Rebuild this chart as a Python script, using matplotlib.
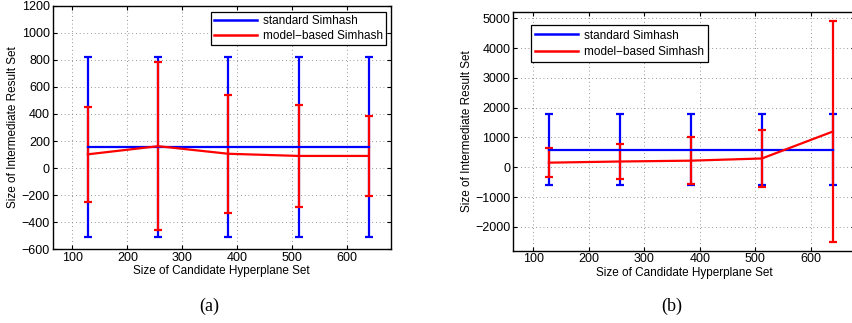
import numpy as np
import matplotlib
matplotlib.use('Agg')
import matplotlib.pyplot as plt
from matplotlib.lines import Line2D

plt.rcParams['font.family'] = ['Liberation Sans', 'DejaVu Sans']

# Data
x = [128, 256, 384, 512, 640]

# (a)
std_mean_a = [153, 153, 153, 153, 153]
std_err_a = [665, 665, 665, 665, 665]
mod_mean_a = [102, 162, 106, 90, 90]
mod_err_a = [351, 621, 435, 376, 298]

# (b)
std_mean_b = [592, 592, 592, 592, 592]
std_err_b = [1182, 1182, 1182, 1182, 1182]
mod_mean_b = [155, 194, 222, 295, 1200]
mod_err_b = [489, 594, 778, 961, 3722]

labels = ['standard Simhash', 'model\u2212based Simhash']
xticks = [100, 200, 300, 400, 500, 600]
yticks_a = [-600, -400, -200, 0, 200, 400, 600, 800, 1000, 1200]
yticks_b = [-2000, -1000, 0, 1000, 2000, 3000, 4000, 5000]

fig = plt.figure(figsize=(8.53, 3.23), dpi=100)
ax1 = fig.add_axes([0.0618, 0.2282, 0.3963, 0.754])
ax2 = fig.add_axes([0.6018, 0.2238, 0.4006, 0.738])


def draw(ax, sm, se, mm, me, yticks, ylim, legend_anchor, spacing, pad):
    ax.errorbar(x, sm, yerr=se, color='#0000ff', lw=1.6, elinewidth=1.6,
                capsize=2.6, capthick=1.6)
    ax.errorbar(x, mm, yerr=me, color='#ff0000', lw=1.6, elinewidth=1.6,
                capsize=2.6, capthick=1.6)
    ax.set_xlim(64, 680)
    ax.set_ylim(*ylim)
    ax.set_xticks(xticks)
    ax.set_yticks(yticks)
    ax.set_yticklabels([str(v).replace('-', '\u2212') for v in yticks])
    ax.grid(True, linestyle=(0, (1, 3.5)), color='0.45', lw=0.6)
    ax.tick_params(direction='in', top=True, right=True, labelsize=9,
                   length=3, width=0.8, pad=2)
    for s in ax.spines.values():
        s.set_linewidth(1.0)
    ax.set_xlabel('Size of Candidate Hyperplane Set', fontsize=8.5, labelpad=1)
    ax.set_ylabel('Size of Intermediate Result Set', fontsize=8.5, labelpad=2)
    handles = [Line2D([], [], color='#0000ff', lw=1.8),
               Line2D([], [], color='#ff0000', lw=1.8)]
    leg = ax.legend(handles, labels, loc=legend_anchor[0],
                    bbox_to_anchor=legend_anchor[1],
                    fontsize=8.5, fancybox=False, framealpha=1,
                    edgecolor='black', handlelength=3.6, borderpad=pad,
                    labelspacing=spacing, handletextpad=0.5, borderaxespad=0)
    leg.get_frame().set_linewidth(0.9)


draw(ax1, std_mean_a, std_err_a, mod_mean_a, mod_err_a, yticks_a,
     (-600, 1200), ('upper right', (0.985, 0.973)), 0.2, 0.25)
draw(ax2, std_mean_b, std_err_b, mod_mean_b, mod_err_b, yticks_b,
     (-2800, 5200), ('upper left', (0.052, 0.945)), 0.4, 0.35)

fig.text(209 / 853, 1 - 306 / 323, '(a)', family='Liberation Serif',
         fontsize=13, ha='center', va='center')
fig.text(672 / 853, 1 - 306 / 323, '(b)', family='Liberation Serif',
         fontsize=13, ha='center', va='center')

fig.savefig('out.png', dpi=100)
